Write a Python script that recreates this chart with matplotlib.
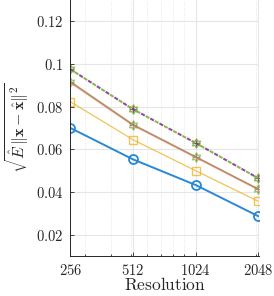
import matplotlib as mpl
mpl.use('Agg')
import matplotlib.pyplot as plt
from matplotlib.ticker import FixedLocator, FuncFormatter, LogLocator, NullFormatter

mpl.rcParams['mathtext.fontset'] = 'cm'
mpl.rcParams['font.family'] = 'serif'
mpl.rcParams['font.serif'] = ['DejaVu Serif']

resolution = [256, 512, 1024, 2048]
err_blue = [0.0700, 0.0553, 0.0433, 0.0287]
err_yellow = [0.0823, 0.0645, 0.0500, 0.0357]
err_orange = [0.0912, 0.0712, 0.0562, 0.0411]
err_grey = [0.0919, 0.0718, 0.0567, 0.0416]
err_green = [0.0916, 0.0715, 0.0565, 0.0414]
err_purple = [0.0916, 0.0715, 0.0565, 0.0414]
err_purple_dash = [0.0975, 0.0788, 0.0630, 0.0465]
err_green_dash = [0.0975, 0.0788, 0.0630, 0.0465]
y_ticks = [0.02, 0.04, 0.06, 0.08, 0.1, 0.12]

HEXAGRAM = (6, 1, 0)

fig = plt.figure(figsize=(2.74, 2.96), dpi=100)
ax = fig.add_axes([0.256, 0.135, 0.689, 0.865])

ax.set_xscale('log')
ax.set_xlim(255, 2065)
ax.set_ylim(0.01, 0.13)

ax.plot(resolution, err_yellow, color='#EDB120', alpha=0.75, lw=0.9, marker='s',
        ms=5.5, mfc='none', mew=1.0)
ax.plot(resolution, err_grey, color='#999999', alpha=0.7, lw=0.7)
ax.plot(resolution, err_purple, color='#7E2F8E', alpha=0.5, lw=0.5, marker='+',
        ms=6, mew=0.9)
ax.plot(resolution, err_green, color='#77AC30', alpha=0.7, lw=0.6, marker=HEXAGRAM,
        ms=7, mfc='none', mew=0.9)
ax.plot(resolution, err_orange, color='#E8704A', alpha=0.75, lw=0.9)
ax.plot(resolution, err_purple_dash, color='#7E2F8E', alpha=0.85, lw=1.5,
        ls=(0, (2, 3)), marker='+', ms=6, mew=0.9)
ax.plot(resolution, err_green_dash, color='#77AC30', alpha=0.85, lw=1.5,
        ls=(2.5, (2, 3)), marker=HEXAGRAM, ms=7, mfc='none', mew=0.9)
ax.plot(resolution, err_blue, color='#2a88d4', lw=1.4, marker='o',
        ms=6.5, mfc='none', mew=1.3)

ax.xaxis.set_major_locator(FixedLocator(resolution))
ax.xaxis.set_major_formatter(FuncFormatter(lambda v, p: r'$%d$' % v))
ax.xaxis.set_minor_locator(LogLocator(base=10, subs=range(2, 10)))
ax.xaxis.set_minor_formatter(NullFormatter())
ax.yaxis.set_major_locator(FixedLocator(y_ticks))
ax.yaxis.set_major_formatter(FuncFormatter(lambda v, p: r'$%g$' % v))

ax.grid(which='major', color='#e6e6e6', lw=0.8)
ax.grid(which='minor', axis='x', color='#e0e0e0', lw=0.6, ls=':')
ax.set_axisbelow(True)

for s in ['top', 'right']:
    ax.spines[s].set_visible(False)
for s in ['left', 'bottom']:
    ax.spines[s].set_color('#262626')
    ax.spines[s].set_linewidth(0.7)

ax.tick_params(which='both', direction='in', labelsize=10.5, colors='#262626',
               width=0.6)
ax.tick_params(which='major', length=3, pad=5)
ax.tick_params(which='minor', length=1.8)

ax.set_xlabel(r'$\mathrm{Resolution}$', fontsize=12.5, color='#262626', labelpad=-1)
ax.set_ylabel(r'$\sqrt{\hat{E}\,\|\mathbf{x}-\hat{\mathbf{x}}\|^2}$', fontsize=11.5,
              color='#262626', labelpad=3)

fig.savefig('out.png', dpi=100)
